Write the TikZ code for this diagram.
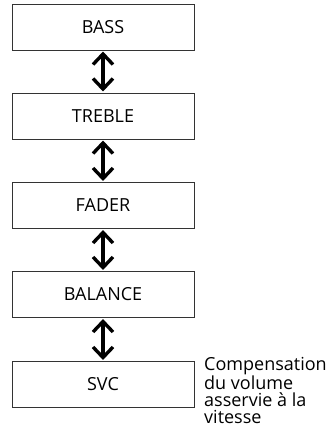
\documentclass[tikz,border=0pt]{standalone}
\usepackage{fontspec}
\newfontfamily\diafont{Open Sans}
\begin{document}
\begin{tikzpicture}[x=1pt,y=1pt,
  box/.style={draw=black!80, line width=1pt, minimum width=182pt, minimum height=46pt, inner sep=0pt, font=\diafont\fontsize{18}{18}\selectfont},
  arr/.style={line width=3.4pt, draw=black, line cap=butt, line join=miter, miter limit=10}]
\useasboundingbox (0,0) rectangle (331,-429);
\node[box] (bass) at (103,-27) {BASS};
\node[box] (treble) at (103,-116) {TREBLE};
\node[box] (fader) at (103,-205.5) {FADER};
\node[box] (balance) at (103,-294.5) {BALANCE};
\node[box] (svc) at (103,-384.5) {SVC};
\foreach \a/\b in {bass/treble, treble/fader, fader/balance, balance/svc}{
  \draw[arr] ([yshift=-4pt]\a.south) -- ([yshift=4pt]\b.north);
  \draw[arr] ([xshift=-10pt,yshift=-14pt]\a.south) -- ([yshift=-3.5pt]\a.south) -- ([xshift=10pt,yshift=-14pt]\a.south);
  \draw[arr] ([xshift=-10pt,yshift=14pt]\b.north) -- ([yshift=3.5pt]\b.north) -- ([xshift=10pt,yshift=14pt]\b.north);
}
\node[anchor=north west, inner sep=0pt, align=left, font=\diafont\fontsize{18}{16.8}\selectfont] (note) at (204,-357) {Compensation\\du volume\\asservie à la\\vitesse};
\end{tikzpicture}
\end{document}
